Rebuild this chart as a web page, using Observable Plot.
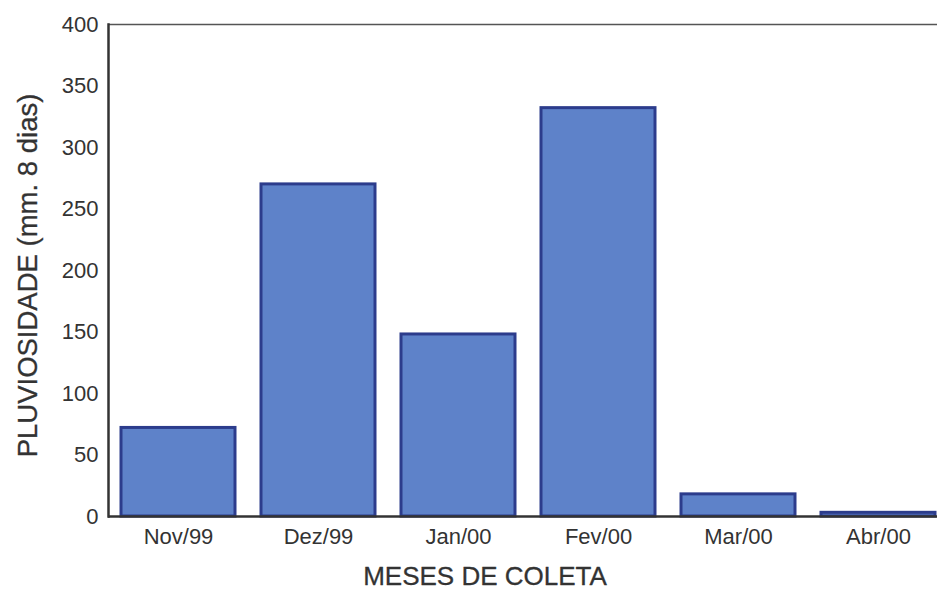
<!DOCTYPE html>
<html>
<head>
<meta charset="utf-8">
<script src="https://cdn.jsdelivr.net/npm/d3@7"></script>
<script src="https://cdn.jsdelivr.net/npm/@observablehq/plot@0.6"></script>
<style>
  html, body { margin: 0; padding: 0; background: #fff; }
  svg { display: block; }
</style>
</head>
<body>
<div id="chart"></div>
<script>
const months = ["Nov/99", "Dez/99", "Jan/00", "Fev/00", "Mar/00", "Abr/00"];
const rainfall = [72, 270, 148, 332, 18, 3];
const yTicks = [0, 50, 100, 150, 200, 250, 300, 350, 400];
const xTitle = "MESES DE COLETA";
const yTitle = "PLUVIOSIDADE (mm. 8 dias)";

const data = months.map((m, i) => ({month: m, value: rainfall[i]}));

const chart = Plot.plot({
  width: 937,
  height: 600,
  marginLeft: 108,
  marginRight: 0,
  marginTop: 24,
  marginBottom: 84,
  style: {fontFamily: "'Liberation Sans', Arial, sans-serif", background: "#fff", color: "#333"},
  x: {domain: months, range: [108, 948], paddingInner: 0.186, paddingOuter: 0.093, label: null},
  y: {domain: [0, 400], label: null},
  marks: [
    Plot.barY(data, {x: "month", y: "value", fill: "#5e82c9", stroke: "#2c3c8c", strokeWidth: 3}),
    Plot.ruleY([400], {stroke: "#555", strokeWidth: 1.5}),
    Plot.ruleY([0], {stroke: "#333", strokeWidth: 2.5}),
    Plot.frame({anchor: "left", stroke: "#333", strokeWidth: 2.5}),
    Plot.axisY({ticks: yTicks, tickSize: 0, tickPadding: 10, fontSize: 22, label: null, fill: "#333", stroke: "#333", strokeWidth: 0.3}),
    Plot.axisX({tickSize: 0, tickPadding: 12, fontSize: 22, label: null, fill: "#333", stroke: "#333", strokeWidth: 0.3}),
    Plot.text([xTitle], {frameAnchor: "bottom", dy: 68, dx: -38, fontSize: 26, fill: "#333", stroke: "#333", strokeWidth: 0.3}),
    Plot.text([yTitle], {frameAnchor: "left", textAnchor: "middle", rotate: -90, dx: -80, dy: 5, fontSize: 27.5, fill: "#333", stroke: "#333", strokeWidth: 0.3})
  ]
});
document.getElementById("chart").appendChild(chart);
</script>
</body>
</html>
